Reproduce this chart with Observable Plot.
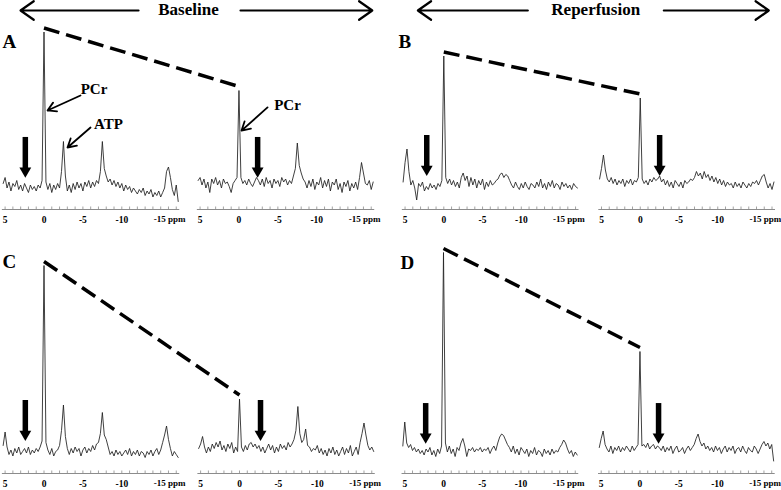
<!DOCTYPE html>
<html><head><meta charset="utf-8">
<script src="https://cdn.jsdelivr.net/npm/d3@7"></script>
<script src="https://cdn.jsdelivr.net/npm/@observablehq/plot@0.6"></script>
<style>
body{margin:0;background:#fff;}
#fig{position:relative;width:781px;height:490px;overflow:hidden;background:#fff;}
#fig > div{position:absolute;}
</style></head><body><div id="fig"></div>
<script>
// ---- data ----
const ppmStart = 5.25, ppmStep = 0.25;           // chemical-shift grid of every spectrum
const tickValues = [5, 0, -5, -10, -15];
const tickLabels = ["5", "0", "-5", "-10", "-15 ppm"];
const panelIds = ["A", "B", "C", "D"];
const timepoints = ["Baseline", "Reperfusion"];
const peakNames = ["PCr", "ATP", "PCr"];

// 31P spectra (a.u.), one value per grid point, 91 points (5.25 … -17.25 ppm)
const specA1 = [2,6,-1,3,-3,2,0,4,-2,1, -3,2,-1,-4,1,-2,0,-3,1,-1, 4,103,3,-2,2,-4,1,-2,2,-1,
  10,30,7,-3,1,-4,2,-2,3,-1, 2,-3,3,0,4,-1,3,0,4,2, 10,30,12,7,3,5,1,4,0,3,
  -1,2,-3,1,-2,0,-4,-1,-3,-5, -2,-4,-1,-6,-3,-5,-2,-7,-4,-6, -3,-7,-4,-1,10,13,6,-2,-6,1, -10];
const specA2 = [4,6,1,5,-1,3,-4,5,2,6, 1,4,-1,5,2,3,0,-4,2,4, 6,64,6,2,4,1,5,2,0,3,
  6,4,1,5,0,6,2,4,-1,5, 2,4,0,6,3,5,1,4,2,7, 12,29,14,9,5,3,-1,4,0,5,
  -2,3,1,6,-1,4,0,5,-3,3, 1,5,-2,2,-4,3,0,4,-3,2, -1,3,-2,6,16,9,2,1,4,-2, 3];
const specB1 = [1,14,23,8,-1,2,-3,-11,0,-2, 1,-5,-2,-4,0,-3,-1,-4,0,-2, 2,85,4,0,3,-1,2,-2,1,-3,
  4,7,2,5,-2,4,-1,3,-3,2, -1,3,-4,1,-2,2,-1,0,2,3, 6,7,4,6,5,2,-1,-3,1,-2,
  -4,0,-3,1,-2,-4,0,-1,-3,1, -2,3,-3,0,-4,1,-2,2,-3,0, -1,-4,1,-2,0,-3,-1,-4,0,-2, -3];
const specB2 = [3,10,19,9,3,1,4,0,3,-1, 2,0,3,-2,2,0,3,-1,2,1, 4,57,3,0,2,-1,3,1,4,2,
  3,5,1,3,-1,2,-2,1,-3,2, 0,-2,1,-3,2,0,1,3,2,4, 8,5,7,3,8,4,6,2,5,1,
  4,0,3,-1,2,-2,1,-1,0,-3, 1,-2,0,-3,1,-1,-3,0,-2,1, 0,2,-1,2,5,6,1,-3,0,-4, 1];
const specC1 = [4,13,3,-2,1,-3,2,-1,3,-2, 0,2,-1,3,-2,1,-1,2,0,3, 7,124,6,1,-2,2,-3,0,1,4,
  14,31,10,2,-2,2,-1,3,0,2, -3,1,3,-1,2,0,4,1,5,6, 12,26,11,8,3,-2,0,-3,1,-2,
  0,-3,-1,1,-2,2,-3,0,-2,1, -3,0,-1,-4,0,-2,1,-3,0,2, -2,1,6,11,17,8,2,-3,0,-2, -4];
const specC2 = [2,5,10,3,-1,3,0,5,2,6, 3,7,1,4,0,5,2,6,-1,3, 0,35,3,0,4,1,5,6,3,5,
  2,4,0,3,-1,2,5,1,4,-1, 3,0,5,2,4,1,6,3,5,8, 14,30,12,6,8,15,4,3,0,2,
  1,4,-1,2,-2,1,-3,2,-1,3, -2,1,-3,0,3,-2,2,-1,4,-3, 0,3,-2,6,12,19,11,4,1,3, 0];
const specD1 = [3,19,5,2,4,0,2,-1,1,-2, 0,-3,1,-1,2,-3,0,-4,1,-2, 3,132,5,-1,3,-2,1,-4,2,0,
  5,8,3,-4,1,0,2,-1,1,0, 2,-1,1,0,2,-2,1,3,0,5, 9,11,10,7,4,2,-1,3,-2,1,
  -3,2,0,-2,1,-4,0,-2,2,-3, 0,-1,-4,1,-2,0,-3,1,-2,0, -1,2,4,7,5,1,-2,0,-4,-1, -3];
const specD2 = [2,8,13,4,1,-1,3,-2,2,0, 3,-1,2,0,3,1,-1,3,0,2, 4,66,3,4,2,5,1,3,4,1,
  3,2,0,3,-1,2,0,3,-2,1, 3,-1,0,2,-2,1,3,0,2,4, 8,11,6,3,5,1,3,0,2,-1,
  3,0,2,-2,1,3,-1,2,0,3, -2,1,2,-1,3,0,-2,2,0,-1, 3,1,-2,1,4,6,3,5,1,4, -7];

const spectraByPanel = {A: [specA1, specA2], B: [specB1, specB2], C: [specC1, specC2], D: [specD1, specD2]};

// thick marker arrows (ppm on spectrum s, from top to tip, a.u.)
const markerArrows = {
  A: [{s: 0, ppm: 2.4, top: 32.7, tip: 6}, {s: 1, ppm: -2.4, top: 32.7, tip: 6}],
  B: [{s: 0, ppm: 2.2, top: 32, tip: 5.3}, {s: 1, ppm: -2.5, top: 32, tip: 5.3}],
  C: [{s: 0, ppm: 2.4, top: 34, tip: 7.3}, {s: 1, ppm: -2.7, top: 34, tip: 7.3}],
  D: [{s: 0, ppm: 2.3, top: 31.3, tip: 4.7}, {s: 1, ppm: -2.4, top: 31.3, tip: 4.7}]
};
// peak labels in panel A
const peakLabels = [
  {s: 0, ppm: -6.43, v: 65, ppm1: -4.69, v1: 60.7, ppm2: -0.45, v2: 50.7},
  {s: 0, ppm: -8.29, v: 41.3, ppm1: -5.98, v1: 39.3, ppm2: -3.02, v2: 26},
  {s: 1, ppm: -6.24, v: 54, ppm1: -3.67, v1: 52.7, ppm2: -0.33, v2: 37.3}
];

// ---- layout ----
const unitPx = 1.5;
const layout = {
  A: {left: 0, top: 0, w: 390, zeroPx: 43.5, ppx: 7.78, off: 25.06, basePx: 186, axisPx: 209, ldx: 2, ldy: 33.5,
      header: 0, headerU: 18.57, headerArrows: [{a: 12.15, b: -3.02}, {a: 25.26, b: 42.2}]},
  B: {left: 390, top: 0, w: 391, zeroPx: 53.3, ppx: 7.75, off: 25.35, basePx: 183, axisPx: 209, ldx: 8, ldy: 33.5,
      header: 1, headerU: 19.6, headerArrows: [{a: 10.84, b: -3.35}, {a: 28.39, b: 41.94}]},
  C: {left: 0, top: 245, w: 390, zeroPx: 43.5, ppx: 7.78, off: 25.13, basePx: 206, axisPx: 228, ldx: 2, ldy: 8.5},
  D: {left: 390, top: 245, w: 391, zeroPx: 53, ppx: 7.75, off: 25.35, basePx: 205, axisPx: 228, ldx: 10, ldy: 9.5}
};
const serif = "'Liberation Serif','Times New Roman',serif";

function drawPanel(id) {
  const L = layout[id];
  const spectra = spectraByPanel[id];
  const H = 245;
  const yAt = px => (L.basePx - px) / unitPx;
  const U = (ppm, s) => -ppm + (s ? L.off : 0);
  const pts = [];
  spectra.forEach((arr, s) => arr.forEach((v, i) => pts.push({s, u: U(ppmStart - i * ppmStep, s), v})));
  const axisV = yAt(L.axisPx);
  const specIdx = [0, 1];
  const minor = [];
  specIdx.forEach(s => { for (let p = 5; p >= -17; p--) minor.push({s, u: U(p, s)}); });
  const tickData = specIdx.flatMap(s => tickValues.map((t, j) => ({s, u: U(t, s), label: tickLabels[j], last: j === tickValues.length - 1})));
  const pcr = spectra.map(a => d3.max(a));
  const arrows = markerArrows[id].map(d => ({...d, u: U(d.ppm, d.s)}));
  const txt = {fontFamily: serif, fontWeight: "bold", fill: "black"};

  const marks = [
    Plot.line(pts, {x: "u", y: "v", z: "s", stroke: "#1f1f1f", strokeWidth: 0.85}),
    Plot.ruleY(specIdx, {x1: s => U(5.35, s), x2: s => U(-17.45, s), y: () => axisV, stroke: "#8c8c8c", strokeWidth: 1}),
    Plot.ruleX(minor, {x: "u", y1: axisV, y2: axisV + 2.5 / unitPx, stroke: "#8c8c8c", strokeWidth: 0.8}),
    Plot.text(tickData.filter(d => !d.last), {x: "u", y: axisV, text: "label", dy: 10, fontSize: 9.5, ...txt}),
    Plot.text(tickData.filter(d => d.last), {x: "u", y: axisV, text: "label", dy: 10, dx: -7, textAnchor: "start", fontSize: 9, ...txt}),
    Plot.link([0], {x1: U(0, 0), y1: pcr[0], x2: U(0, 1), y2: pcr[1], dy: -4, stroke: "black", strokeWidth: 3.5, strokeDasharray: "16,7"}),
    Plot.ruleX(arrows, {x: "u", y1: "top", y2: "tip", stroke: "black", strokeWidth: 5.5, insetBottom: 8}),
    Plot.dot(arrows, {x: "u", y: "tip", symbol: "triangle", r: 4.4, fill: "black", stroke: "none", rotate: 180, dy: -6.5}),
    Plot.text([id], {frameAnchor: "top-left", text: d => d, dx: L.ldx, dy: L.ldy, lineAnchor: "top", fontSize: 19, ...txt})
  ];
  if (L.header !== undefined) {
    marks.push(
      Plot.text([timepoints[L.header]], {x: L.headerU, frameAnchor: "top", text: d => d, lineAnchor: "top", dy: 2, fontSize: 17, ...txt}),
      Plot.arrow(L.headerArrows, {x1: "a", x2: "b", y1: yAt(10), y2: yAt(10), stroke: "black", strokeWidth: 2.2, headLength: 11, headAngle: 70})
    );
  }
  if (id === "A") {
    const lab = peakLabels.map((d, j) => ({...d, name: peakNames[j], u: U(d.ppm, d.s), u1: U(d.ppm1, d.s), u2: U(d.ppm2, d.s)}));
    marks.push(
      Plot.text(lab, {x: "u", y: "v", text: "name", fontSize: 15, ...txt}),
      Plot.arrow(lab, {x1: "u1", y1: "v1", x2: "u2", y2: "v2", stroke: "black", strokeWidth: 1.8, headLength: 8, headAngle: 60})
    );
  }
  const svg = Plot.plot({
    width: L.w, height: H, margin: 0,
    x: {domain: [-L.zeroPx / L.ppx, (L.w - L.zeroPx) / L.ppx], axis: null},
    y: {domain: [yAt(H), yAt(0)], axis: null},
    style: {background: "transparent", overflow: "visible", fontFamily: serif},
    marks
  });
  const holder = document.createElement("div");
  holder.style.left = L.left + "px";
  holder.style.top = L.top + "px";
  holder.appendChild(svg);
  document.getElementById("fig").appendChild(holder);
}
panelIds.forEach(drawPanel);
</script></body></html>
